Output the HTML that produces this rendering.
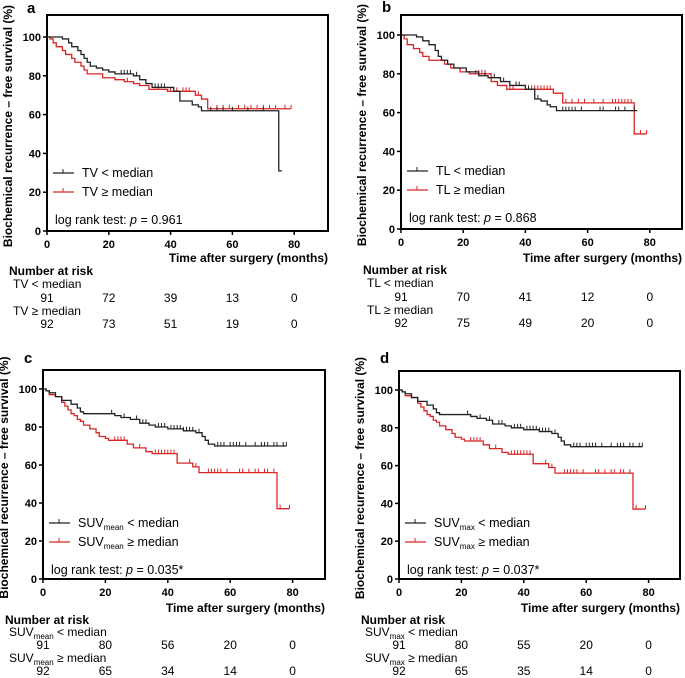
<!DOCTYPE html>
<html><head><meta charset="utf-8"><style>
html,body{margin:0;padding:0;background:#fff;}
svg{display:block;font-family:"Liberation Sans",Arial,sans-serif;}
.tk{font-weight:bold;font-size:11px;}
.ax{font-weight:bold;font-size:12px;}
.lg{font-size:12.5px;}
.rk{font-size:12px;font-family:"Liberation Sans Narrow","Liberation Sans",sans-serif;}
</style></head><body>
<svg id="fig" width="685" height="678" viewBox="0 0 685 678" xmlns="http://www.w3.org/2000/svg"></svg>
<script>
// ---- data: step events [time, survival%] ----
const xTicks = [0, 20, 40, 60, 80];
const yTicks = [0, 20, 40, 60, 80, 100];
const aBlack = [[0,100],[5,99],[7,97],[8,95],[10,93],[11,91],[12,89],[13,87],[14,85],[16,84],[18,83],[20,82],[22,81],[28,80],[30,78],[32,76],[34,74],[41,72],[43,67],[47,65],[49,64],[50,62],[75,31],[76,31]];
const aBlackCens = [24,25,26,27,29,35,36,37,38,53,55,57,60,65,70];
const aRed = [[0,100],[1,99],[2,97],[3,95],[5,93],[6,91],[8,89],[9,87],[11,85],[12,83],[13,81],[18,79],[22,78],[25,77],[28,76],[30,75],[33,73],[39,72],[48,70],[50,68],[52,63],[79,63]];
const aRedCens = [26,36,40,42,44,45,46,49,55,57,59,62,64,66,68,70,72,74,77,79];
const bBlack = [[0,100],[5,99],[7,97],[9,95],[11,92],[12,89],[13,87],[15,85],[17,83],[21,81],[25,79],[28,78],[32,76],[35,74],[40,72],[43,67],[45,66],[47,64],[48,63],[50,61],[76,61]];
const bBlackCens = [27,30,33,37,38,41,44,52,53,54,55,56,58,64,65,69,70,72,75];
const bRed = [[0,100],[1,98],[2,95],[4,93],[6,91],[7,89],[9,87],[14,85],[16,83],[19,81],[22,80],[29,76],[31,74],[34,72],[49,70],[52,65],[75,49],[79,49]];
const bRedCens = [24,25,26,27,35,36,42,43,44,45,46,47,48,53,55,57,59,62,65,68,69,70,71,72,73,74,77,79];
const cBlack = [[0,100],[1,99],[2,98],[4,96],[6,94],[9,92],[11,90],[12,88],[13,87],[23,86],[25,85],[28,84],[31,82],[34,81],[36,80],[40,79],[45,78],[49,77],[51,75],[52,73],[53,71],[55,70],[78,70]];
const cBlackCens = [22,26,30,32,33,37,38,39,41,42,43,44,45,46,47,48,50,56,57,58,60,61,62,63,65,68,70,71,72,74,75,77,78];
const cRed = [[0,100],[1,99],[2,97],[4,96],[6,93],[7,91],[8,89],[9,87],[10,86],[11,84],[12,83],[13,81],[15,79],[17,77],[18,75],[20,74],[21,73],[27,71],[29,69],[33,67],[35,66],[43,61],[48,59],[50,56],[75,37],[79,37]];
const cRedCens = [23,24,25,26,31,36,37,38,39,40,41,42,47,49,53,54,55,56,57,59,63,64,66,68,69,71,72,74,76,79];
const dBlack = [[0,100],[1,99],[2,98],[4,96],[6,94],[9,92],[11,90],[12,88],[13,87],[23,86],[25,85],[28,84],[30,82],[34,81],[36,80],[40,79],[45,78],[49,77],[51,75],[52,73],[53,71],[55,70],[78,70]];
const dBlackCens = [22,26,29,32,33,37,38,39,41,42,43,44,45,46,47,48,50,56,57,58,60,61,62,63,65,68,70,71,72,74,75,77,78];
const dRed = [[0,100],[1,99],[2,97],[4,96],[6,93],[7,91],[8,89],[9,87],[10,86],[11,84],[12,83],[13,81],[15,79],[17,77],[18,75],[20,74],[21,73],[27,71],[29,69],[33,67],[35,66],[43,61],[48,59],[50,56],[75,37],[79,37]];
const dRedCens = [23,24,25,26,31,36,37,38,39,40,41,42,47,49,53,54,55,56,57,59,63,64,66,68,69,71,72,74,76,79];
const riskA1 = [91,72,39,13,0], riskA2 = [92,73,51,19,0];
const riskB1 = [91,70,41,12,0], riskB2 = [92,75,49,20,0];
const riskC1 = [91,80,56,20,0], riskC2 = [92,65,34,14,0];
const riskD1 = [91,80,55,20,0], riskD2 = [92,65,35,14,0];

const NS='http://www.w3.org/2000/svg';
const svg=document.getElementById('fig');
function mk(tag,attrs,parent,text){const e=document.createElementNS(NS,tag);for(const k in attrs)e.setAttribute(k,attrs[k]);if(text!==undefined)e.textContent=text;(parent||svg).appendChild(e);return e;}
const RED='#d92626';

function panel(o){
  const g=mk('g',{});
  
  
  const X=t=>o.x0+t*o.pxm, Y=v=>o.y0-(v/100)*(o.y0-o.y100);
  const lt=mk('text',{x:o.lx,y:o.ly,'font-weight':'bold','font-size':'15'},g,o.letter);
  
  
  const box=mk('rect',{x:o.x0,y:o.top,width:o.right-o.x0,height:o.y0-o.top,fill:'none',stroke:'#000','stroke-width':2},g);
  
  
  yTicks.forEach(v=>{
    mk('line',{x1:o.x0-4,x2:o.x0,y1:Y(v),y2:Y(v),stroke:'#000','stroke-width':1.5},g);
    const t=mk('text',{x:o.x0-6,y:Y(v)+4,'text-anchor':'end',class:'tk'},g,v);
    
    
  });
  xTicks.forEach(v=>{
    mk('line',{x1:X(v),x2:X(v),y1:o.y0,y2:o.y0+4,stroke:'#000','stroke-width':1.5},g);
    const t=mk('text',{x:X(v),y:o.y0+17,'text-anchor':'middle',class:'tk'},g,v);
    
    
  });
  const yt=mk('text',{x:0,y:0,transform:`translate(${o.x0-35},${(o.top+o.y0)/2+3}) rotate(-90)`,'text-anchor':'middle',class:'ax'},g,'Biochemical recurrence \u2013 free survival (%)');
  
  
  const xt=mk('text',{x:o.right,y:o.y0+o.r[0],'text-anchor':'end',class:'ax'},g,'Time after surgery (months)');
  
  
  function curve(data,cens,col,name){
    let d=`M${X(data[0][0])},${Y(data[0][1])}`;
    for(let i=1;i<data.length;i++){d+=` H${X(data[i][0])} V${Y(data[i][1])}`;}
    const p=mk('path',{d:d,fill:'none',stroke:col,'stroke-width':1.3},g);
    
    
    cens.forEach(t=>{
      let v=data[0][1];
      for(const e of data){if(e[0]<=t)v=e[1];}
      const c=mk('line',{x1:X(t),x2:X(t),y1:Y(v),y2:Y(v)-4,stroke:col,'stroke-width':1},g);
      
      
    });
  }
  curve(o.red,o.redC,RED,'above-median');
  curve(o.black,o.blackC,'#222','below-median');
  const lx=o.x0+6;
  [[o.l1,'#222',o.legY],[o.l2,RED,o.legY+19]].forEach((L,i)=>{
    const lg=mk('g',{},g);
    
    
    mk('line',{x1:lx,x2:lx+21,y1:L[2],y2:L[2],stroke:L[1],'stroke-width':1.3},lg);
    mk('line',{x1:lx+10,x2:lx+10,y1:L[2],y2:L[2]-4,stroke:L[1],'stroke-width':1},lg);
    const t=mk('text',{x:lx+29,y:L[2]+4,class:'lg'},lg);
    t.innerHTML=L[0];
  });
  const lr=mk('text',{x:lx+2,y:o.legY+51,class:'lg'},g);
  lr.innerHTML='log rank test: <tspan font-style="italic">p</tspan> = '+o.p;
  
  
  const rb=o.y0;
  const nr=mk('text',{x:o.x0-38,y:rb+o.r[1],'font-weight':'bold',class:'rk','font-size':'13'},g,'Number at risk');
  
  
  [[o.t1,o.risk1,o.r[2],o.r[3]],[o.t2,o.risk2,o.r[4],o.r[5]]].forEach((R,i)=>{
    const lab=mk('text',{x:o.x0-34,y:rb+R[2],class:'rk'},g);
    lab.innerHTML=R[0];
    
    
    R[1].forEach((n,j)=>{
      const t=mk('text',{x:X(xTicks[j]),y:rb+R[3],'text-anchor':'middle',class:'rk'},g,n);
      
      
    });
  });
}
const rTop=[31,44,57,71,84,97], rBot=[33,45,57,70,83,96];
const sub=(s)=>`SUV<tspan font-size="8" dy="3">${s}</tspan><tspan dy="-3">`;
panel({letter:'a',lx:27,ly:13,x0:47,y0:231,y100:37,top:15,right:328,pxm:3.09,black:aBlack,blackC:aBlackCens,red:aRed,redC:aRedCens,
  l1:'TV &lt; median',l2:'TV \u2265 median',legY:173,p:'0.961',t1:'TV &lt; median',t2:'TV \u2265 median',risk1:riskA1,risk2:riskA2,r:rTop});
panel({letter:'b',lx:382,ly:12,x0:401,y0:229,y100:35,top:15,right:682,pxm:3.11,black:bBlack,blackC:bBlackCens,red:bRed,redC:bRedCens,
  l1:'TL &lt; median',l2:'TL \u2265 median',legY:171,p:'0.868',t1:'TL &lt; median',t2:'TL \u2265 median',risk1:riskB1,risk2:riskB2,r:[33,45,58,72,85,98]});
panel({letter:'c',lx:24,ly:363,x0:43,y0:579,y100:389,top:370,right:325,pxm:3.12,black:cBlack,blackC:cBlackCens,red:cRed,redC:cRedCens,
  l1:sub('mean')+' &lt; median</tspan>',l2:sub('mean')+' \u2265 median</tspan>',legY:523,p:'0.035*',t1:sub('mean')+' &lt; median</tspan>',t2:sub('mean')+' \u2265 median</tspan>',risk1:riskC1,risk2:riskC2,r:rBot});
panel({letter:'d',lx:380,ly:363,x0:399,y0:579,y100:390,top:371,right:680,pxm:3.12,black:dBlack,blackC:dBlackCens,red:dRed,redC:dRedCens,
  l1:sub('max')+' &lt; median</tspan>',l2:sub('max')+' \u2265 median</tspan>',legY:523,p:'0.037*',t1:sub('max')+' &lt; median</tspan>',t2:sub('max')+' \u2265 median</tspan>',risk1:riskD1,risk2:riskD2,r:rBot});
</script>
</body></html>
